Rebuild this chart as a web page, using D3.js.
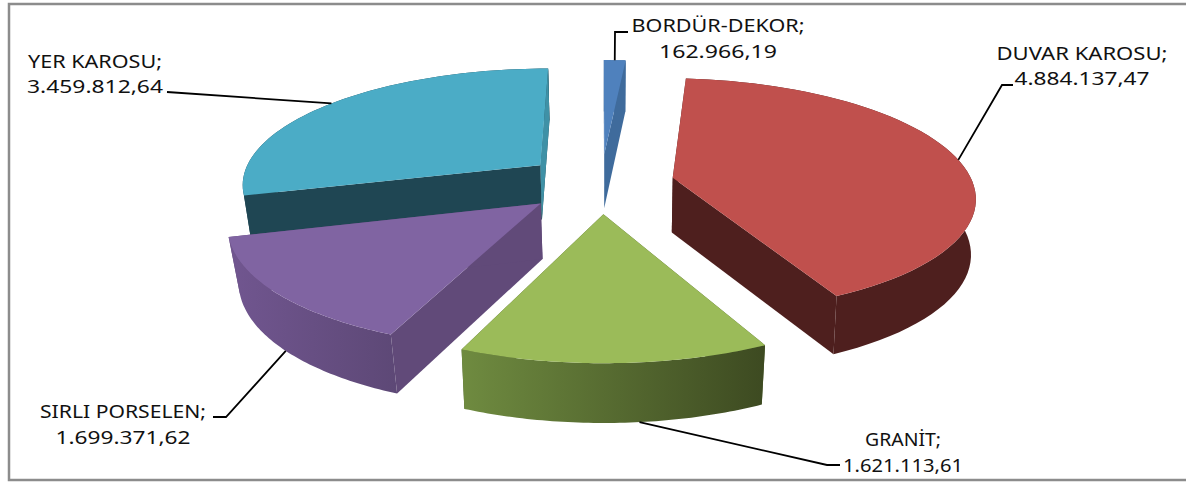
<!DOCTYPE html>
<html>
<head>
<meta charset="utf-8">
<script src="https://cdn.jsdelivr.net/npm/d3@7"></script>
<style>
html, body { margin: 0; padding: 0; background: #fff; }
text { font-family: "Noto Sans", sans-serif; font-size: 18px; fill: #111; }
</style>
</head>
<body>
<svg id="chart" width="1186" height="482"></svg>
<script>
// chart data, clockwise from 12 o'clock
var categories = ['BORDÜR-DEKOR', 'DUVAR KAROSU', 'GRANİT', 'SIRLI PORSELEN', 'YER KAROSU'];
var values = [162966.19, 4884137.47, 1621113.61, 1699371.62, 3459812.64];
var valueLabels = ['162.966,19', '4.884.137,47', '1.621.113,61', '1.699.371,62', '3.459.812,64'];

// colours per slice: top, cut face, wall left, wall right
var topColors = ['#4f81bd', '#c0504d', '#9bbb59', '#8064a2', '#4bacc6'];
var cutColors = ['#3f6b9c', '#4e1f1e', '#4e6030', '#614a79', '#1f4653'];
var wallLeft = ['#3f6b9c', '#4e1f1e', '#6f8b40', '#715690', '#1f4653'];
var wallRight = ['#3f6b9c', '#4e1f1e', '#3d4a21', '#5d4876', '#1f4653'];

// projection of the tilted pie
var cx = 601, cy = 183, radX = 300, radY = 116, persp = 0.15;
var explode = [0.26, 0.245, 0.26, 0.26, 0.26];
var depth = 55;
var bottomShrink = [0.985, 0.987, 0.98, 0.97, 0.975];

// label layout: text centre, baseline of both lines, stretched widths (the source is a stretched image)
var labelX = [718, 1082, 903, 123, 95];
var labelY = [32, 60, 446, 418, 68];
var valueY = [58, 85, 472, 444, 93];
var nameWidth = [173, 171, 76, 166, 134];
var valueWidth = [118, 135, 120, 135, 136];
// where on the slice the leader starts (0..1 of the arc), on top (0) or bottom (1) of wall
var leaderAt = [0.5, 0.51, 0.42, 0.5, 0.5];
var leaderLow = [0, 0, 1, 1, 0];
var leaderMid = [[615, 32], [1002, 85], [827, 465], [226, 417], null];
var leaderEnd = [[628, 32], [1013, 85], [840, 465], [213, 417], [167, 92]];

var svg = d3.select('#chart');

// frame runs off the right edge of the picture
svg.append('rect')
	.attr('x', 9).attr('y', 4)
	.attr('width', 1190).attr('height', 476)
	.attr('fill', '#fff')
	.attr('stroke', '#8c8c8c')
	.attr('stroke-width', 2.5);

var arcs = d3.pie().sort(null)(values);

function project(u, v, low, shrink) {
	var p = 1 / (1 + persp * v);
	var x = radX * u * p;
	var y = cy - radY * v * p;
	if (low) {
		x *= shrink;
		y += depth * Math.pow(p, 0.4);
	}
	return [cx + x, y];
}

// point of slice a at angle t (r = 0 for the apex)
function slicePoint(a, t, r, low) {
	var mid = (a.startAngle + a.endAngle) / 2;
	return project(
		explode[a.index] * Math.sin(mid) + r * Math.sin(t),
		explode[a.index] * Math.cos(mid) + r * Math.cos(t),
		low,
		bottomShrink[a.index]
	);
}

function arcPoints(a, low) {
	var pts = [];
	var n = 60;
	d3.range(n + 1).forEach(function(i) {
		var t = a.startAngle + (a.endAngle - a.startAngle) * i / n;
		pts.push(slicePoint(a, t, 1, low));
	});
	return pts;
}

function poly(pts) {
	return 'M' + pts.map(function(d) { return d[0] + ',' + d[1]; }).join('L') + 'Z';
}

var defs = svg.append('defs');
arcs.forEach(function(a, i) {
	var grad = defs.append('linearGradient').attr('id', 'wall' + i);
	grad.append('stop').attr('offset', '0%').attr('stop-color', wallLeft[i]);
	grad.append('stop').attr('offset', '100%').attr('stop-color', wallRight[i]);
});

// back to front
var order = [4, 0, 1, 3, 2];
order.forEach(function(i) {
	var a = arcs[i];
	var g = svg.append('g').attr('class', 'slice');
	var top = arcPoints(a, false);
	var low = arcPoints(a, true);
	var apexTop = slicePoint(a, 0, 0, false);
	var apexLow = slicePoint(a, 0, 0, true);
	var endFace = poly([apexTop, top[top.length - 1], low[low.length - 1], apexLow]);

	// cut faces on both sides of the slice
	g.append('path')
		.attr('d', poly([apexTop, top[0], low[0], apexLow]))
		.attr('fill', cutColors[i]);
	g.append('path')
		.attr('d', endFace)
		.attr('fill', cutColors[i]);
	// outer wall
	g.append('path')
		.attr('d', poly(top.concat(low.slice().reverse())))
		.attr('fill', 'url(#wall' + i + ')');
	// the teal slice shows a lighter sliver of its end face over the wall
	if (i === 4) {
		g.append('path')
			.attr('d', endFace)
			.attr('fill', '#3f91a6');
	}
	// top face
	g.append('path')
		.attr('d', poly([apexTop].concat(top)))
		.attr('fill', topColors[i]);
});

// leaders
arcs.forEach(function(a, i) {
	var t = a.startAngle + (a.endAngle - a.startAngle) * leaderAt[i];
	var pts = [slicePoint(a, t, 1, leaderLow[i] === 1)];
	if (leaderMid[i]) pts.push(leaderMid[i]);
	pts.push(leaderEnd[i]);
	svg.append('path')
		.attr('d', d3.line()(pts))
		.attr('fill', 'none')
		.attr('stroke', '#000')
		.attr('stroke-width', 1.8);
});

// labels
categories.forEach(function(c, i) {
	var t = svg.append('text').attr('text-anchor', 'middle');
	t.append('tspan')
		.attr('x', labelX[i]).attr('y', labelY[i])
		.attr('textLength', nameWidth[i])
		.attr('lengthAdjust', 'spacingAndGlyphs')
		.text(c + ';');
	t.append('tspan')
		.attr('x', labelX[i]).attr('y', valueY[i])
		.attr('textLength', valueWidth[i])
		.attr('lengthAdjust', 'spacingAndGlyphs')
		.text(valueLabels[i]);
});
</script>
</body>
</html>
